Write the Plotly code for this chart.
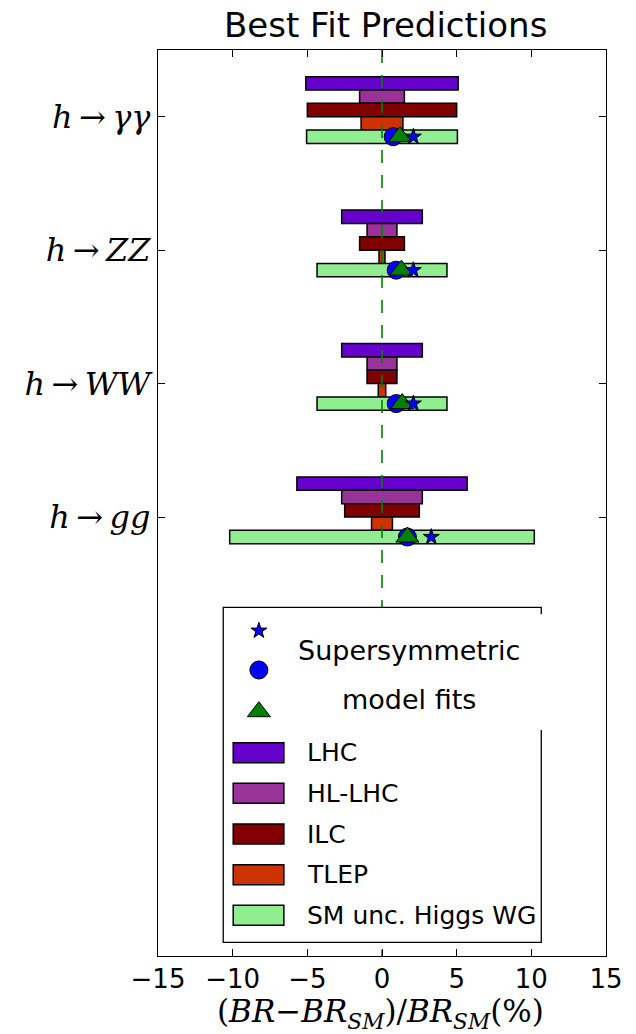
import plotly.graph_objects as go

# Decay channels (top to bottom) and their tick labels
channels = ["h→γγ", "h→ZZ", "h→WW", "h→gg"]
channel_labels = [
    "<i>h</i>\u2009→\u2009<i>γγ</i>",
    "<i>h</i>\u2009→\u2009<i>ZZ</i>",
    "<i>h</i>\u2009→\u2009<i>WW</i>",
    "<i>h</i>\u2009→\u2009<i>gg</i>",
]

# Projected precision (± %) on each branching ratio
lhc = [5.1, 2.7, 2.7, 5.7]
hl_lhc = [1.5, 1.0, 1.0, 2.7]
ilc = [5.0, 1.5, 1.0, 2.5]
tlep = [1.4, 0.2, 0.25, 0.7]
sm_unc = [5.05, 4.35, 4.35, 10.2]

# Supersymmetric best-fit deviations (%)
fit_star = [2.1, 2.1, 2.1, 3.3]
fit_circle = [0.75, 0.95, 0.95, 1.7]
fit_triangle = [1.2, 1.3, 1.35, 1.7]

x_ticks = [-15, -10, -5, 0, 5, 10, 15]

series = [
    ("LHC", lhc, "#6600cc"),
    ("HL-LHC", hl_lhc, "#993399"),
    ("ILC", ilc, "#800000"),
    ("TLEP", tlep, "#cc3300"),
    ("SM unc. Higgs WG", sm_unc, "#90ee90"),
]

rows = list(range(len(channels)))
bar_h = 0.1
offsets = [-0.25, -0.15, -0.05, 0.05, 0.15]

fig = go.Figure()

for (name, half, color), off in zip(series, offsets):
    fig.add_trace(go.Bar(
        orientation="h",
        y=[r + off for r in rows],
        x=[2 * h for h in half],
        base=[-h for h in half],
        width=bar_h,
        marker=dict(color=color, line=dict(color="black", width=1.5)),
        name=name,
        showlegend=False,
    ))

# Reference line at zero deviation
y_lo, y_hi = -0.5, 6.29
fig.add_trace(go.Scatter(
    x=[0, 0], y=[y_lo, y_hi], mode="lines",
    line=dict(color="#008000", width=1.6, dash="13px,12px"),
    showlegend=False, hoverinfo="skip",
))

marker_y = [r + 0.15 for r in rows]
fig.add_trace(go.Scatter(
    x=fit_circle, y=marker_y, mode="markers",
    marker=dict(symbol="circle", size=18, color="#0000ff",
                line=dict(color="black", width=1)),
    showlegend=False,
))
fig.add_trace(go.Scatter(
    x=fit_triangle, y=marker_y, mode="markers",
    marker=dict(symbol="triangle-up", size=20, color="#008000",
                line=dict(color="black", width=1)),
    showlegend=False,
))
fig.add_trace(go.Scatter(
    x=fit_star, y=marker_y, mode="markers",
    marker=dict(symbol="star", size=12, color="#0000ff",
                line=dict(color="black", width=1)),
    showlegend=False,
))

# ---- hand-built legend box, placed in figure-pixel units ----
W, H = 636, 1034
L, R, T, B = 158, 606.5, 50, 956


def fx(p):
    return (p - L) / (R - L)


def fy(p):
    return (B - p) / (B - T)


box_l, box_r, box_t, box_b = 223.3, 541.7, 607.3, 942.3

# white background of the legend (on the overlay axes so it covers the dashed line)
fig.add_trace(go.Scatter(
    x=[fx(box_l), fx(box_r), fx(box_r), fx(box_l), fx(box_l)],
    y=[fy(box_t), fy(box_t), fy(box_b), fy(box_b), fy(box_t)],
    fill="toself", fillcolor="white", mode="none",
    xaxis="x2", yaxis="y2", showlegend=False, hoverinfo="skip",
))

sym_x = fx(259)
for sym, size, color, py in [("star", 12, "#0000ff", 630.7),
                             ("circle", 18, "#0000ff", 670),
                             ("triangle-up", 20, "#008000", 711.7)]:
    fig.add_trace(go.Scatter(
        x=[sym_x], y=[fy(py)], mode="markers",
        marker=dict(symbol=sym, size=size, color=color,
                    line=dict(color="black", width=1)),
        xaxis="x2", yaxis="y2", showlegend=False, hoverinfo="skip",
    ))

shapes = []
# legend frame (the right edge is interrupted beside the fit caption)
frame_path = "M {a},{b} L {a},{c} L {d},{c} L {d},{e} L {a},{e} L {a},{f}".format(
    a=fx(box_r), b=fy(box_t + 7), c=fy(box_t), d=fx(box_l), e=fy(box_b), f=fy(730))
shapes.append(dict(type="path", xref="paper", yref="paper", path=frame_path,
                   line=dict(color="black", width=1.3), layer="above"))

annotations = []
row0, step = 752.7, 40.65
for i, (name, _, color) in enumerate(series):
    cy = row0 + i * step
    shapes.append(dict(type="rect", xref="paper", yref="paper",
                       x0=fx(233.3), x1=fx(284), y0=fy(cy + 10), y1=fy(cy - 10),
                       fillcolor=color, line=dict(color="black", width=1.5),
                       layer="above"))
    annotations.append(dict(xref="paper", yref="paper", x=fx(305), y=fy(cy),
                            text=name, showarrow=False, xanchor="left",
                            yanchor="middle",
                            font=dict(family="DejaVu Sans", size=25, color="black")))

annotations.append(dict(xref="paper", yref="paper", x=fx(409.5), y=fy(650),
                        text="Supersymmetric", showarrow=False,
                        xanchor="center", yanchor="middle",
                        font=dict(family="DejaVu Sans", size=27, color="black")))
annotations.append(dict(xref="paper", yref="paper", x=fx(409.5), y=fy(699),
                        text="model fits", showarrow=False,
                        xanchor="center", yanchor="middle",
                        font=dict(family="DejaVu Sans", size=27, color="black")))

# title and x-axis label
annotations.append(dict(xref="paper", yref="paper", x=fx(386), y=fy(25),
                        text="Best Fit Predictions", showarrow=False,
                        xanchor="center", yanchor="middle",
                        font=dict(family="DejaVu Sans", size=34, color="black")))
annotations.append(dict(
    xref="paper", yref="paper", x=fx(381), y=fy(1013),
    text="(<i>BR</i>−<i>BR</i><sub><i>SM</i></sub>)/<i>BR</i><sub><i>SM</i></sub>(%)",
    showarrow=False, xanchor="center", yanchor="middle",
    font=dict(family="DejaVu Serif", size=31, color="black")))

axis_common = dict(
    showline=True, linecolor="black", linewidth=1.3, mirror="allticks",
    ticks="inside", ticklen=7, tickwidth=1, tickcolor="black",
    showgrid=False, zeroline=False,
)

fig.update_layout(
    width=W, height=H,
    margin=dict(l=L, r=W - R, t=T, b=H - B, pad=0),
    paper_bgcolor="white", plot_bgcolor="white",
    barmode="overlay",
    showlegend=False,
    xaxis=dict(range=[-15, 15], tickvals=x_ticks,
               ticktext=[str(v).replace("-", "−") for v in x_ticks],
               tickfont=dict(family="DejaVu Sans", size=26, color="black"),
               **axis_common),
    yaxis=dict(range=[y_hi, y_lo], tickvals=rows, ticktext=channel_labels,
               tickfont=dict(family="DejaVu Serif", size=32, color="black"),
               **axis_common),
    xaxis2=dict(overlaying="x", anchor="y2", range=[0, 1], visible=False),
    yaxis2=dict(overlaying="y", anchor="x2", range=[0, 1], visible=False),
    shapes=shapes,
    annotations=annotations,
)

fig.write_html("out.html")
